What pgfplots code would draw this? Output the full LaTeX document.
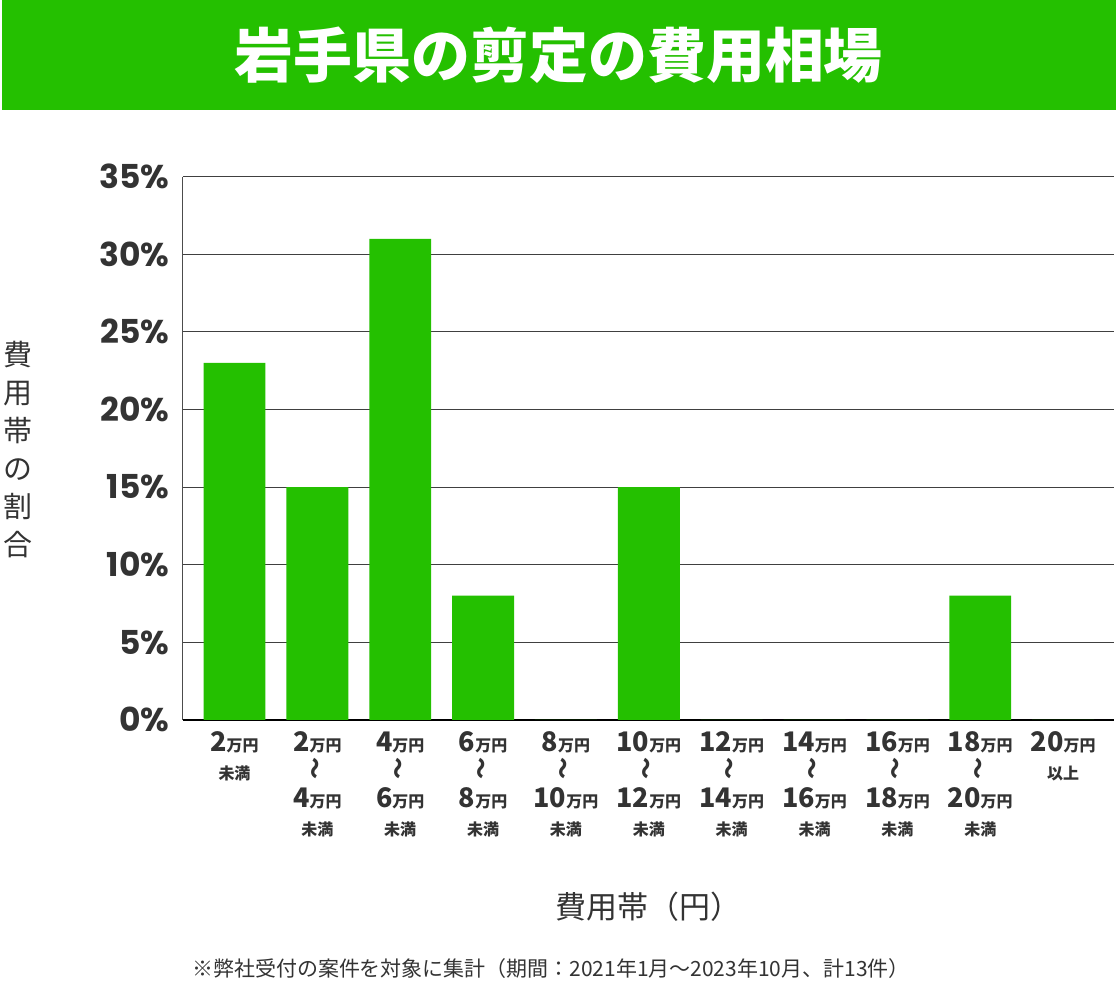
\documentclass[border=0pt]{standalone}
\usepackage{fontspec}
\setmainfont{Noto Sans CJK JP}
\newfontfamily\num{Poppins}
\usepackage{pgfplots}
\pgfplotsset{compat=1.18}
\definecolor{grn}{RGB}{36,192,0}
\definecolor{txt}{RGB}{51,51,51}
\newcommand\N[1]{{\fontsize{27}{28}\selectfont #1}万円}
\newcommand\W{\rotatebox{90}{\fontsize{22}{22}\selectfont ～}}
\pgfplotstableread{
x y
0 23
1 15
2 31
3 8
4 0
5 15
6 0
7 0
8 0
9 8
10 0
}\datatable
\begin{document}
\begin{tikzpicture}[x=1pt,y=1pt]
\fill[white] (0,0) rectangle (1116,989);
\fill[grn] (0,879) rectangle (1116,989);
\node[white,font=\fontsize{59}{64}\selectfont\bfseries] at (558,934) {岩手県の剪定の費用相場};
\node[txt,align=center,font=\fontsize{29}{38}\selectfont] at (16,539) {費\\用\\帯\\の\\割\\合};
\node[txt,font=\fontsize{31}{34}\selectfont] at (648,81) {費用帯（円）};
\node[txt,font=\fontsize{21}{24}\selectfont] at (550,19) {※弊社受付の案件を対象に集計（期間：2021年1月～2023年10月、計13件）};
\begin{axis}[
  at={(181pt,268pt)}, anchor=south west,
  scale only axis, width=933pt, height=544pt,
  xmin=-0.627, xmax=10.614, ymin=0, ymax=35,
  axis lines=left, axis line style={-},
  x axis line style={black, line width=1.5pt},
  y axis line style={black!70, line width=1pt},
  ymajorgrids, major grid style={black!75, line width=0.8pt},
  major tick length=0,
  ytick={0,5,10,15,20,25,30,35},
  yticklabels={0\%,5\%,10\%,15\%,20\%,25\%,30\%,35\%},
  yticklabel style={font=\fontsize{33}{33}\selectfont\num\bfseries, text=txt, inner sep=0pt, xshift=-13pt},
  xtick={0,1,2,3,4,5,6,7,8,9,10},
  xticklabels={
    {\N{2}\\未満},
    {\N{2}\\\W\\\N{4}\\未満},
    {\N{4}\\\W\\\N{6}\\未満},
    {\N{6}\\\W\\\N{8}\\未満},
    {\N{8}\\\W\\\N{10}\\未満},
    {\N{10}\\\W\\\N{12}\\未満},
    {\N{12}\\\W\\\N{14}\\未満},
    {\N{14}\\\W\\\N{16}\\未満},
    {\N{16}\\\W\\\N{18}\\未満},
    {\N{18}\\\W\\\N{20}\\未満},
    {\N{20}\\以上}},
  xticklabel style={align=center, font=\fontsize{16}{28}\selectfont\bfseries, text=txt, anchor=north, inner sep=0pt, yshift=-12pt},
  clip=false,
]
\addplot[ybar, bar width=62pt, bar shift=0pt, fill=grn, draw=none] table[x=x,y=y] {\datatable};
\end{axis}
\end{tikzpicture}
\end{document}
